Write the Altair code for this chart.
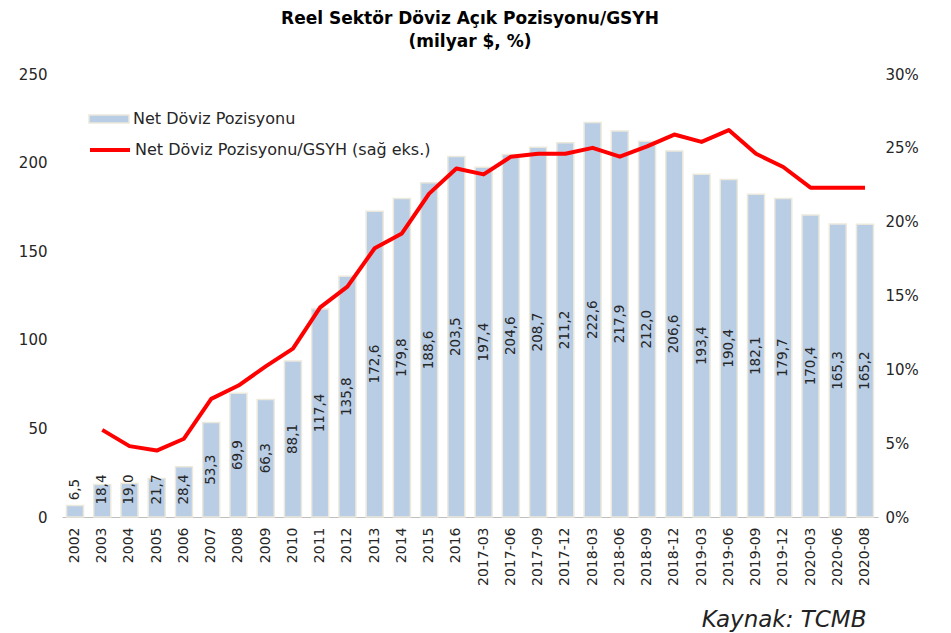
import altair as alt
import pandas as pd

categories = ["2002", "2003", "2004", "2005", "2006", "2007", "2008", "2009", "2010",
              "2011", "2012", "2013", "2014", "2015", "2016",
              "2017-03", "2017-06", "2017-09", "2017-12",
              "2018-03", "2018-06", "2018-09", "2018-12",
              "2019-03", "2019-06", "2019-09", "2019-12",
              "2020-03", "2020-06", "2020-08"]
net_position = [6.5, 18.4, 19.0, 21.7, 28.4, 53.3, 69.9, 66.3, 88.1,
                117.4, 135.8, 172.6, 179.8, 188.6, 203.5,
                197.4, 204.6, 208.7, 211.2,
                222.6, 217.9, 212.0, 206.6,
                193.4, 190.4, 182.1, 179.7,
                170.4, 165.3, 165.2]
ratio_gdp = [None, 5.9, 4.8, 4.5, 5.3, 8.0, 8.9, 10.2, 11.4,
             14.2, 15.6, 18.2, 19.2, 21.9, 23.6,
             23.2, 24.4, 24.6, 24.6,
             25.0, 24.4, 25.1, 25.9,
             25.4, 26.2, 24.6, 23.7,
             22.3, 22.3, 22.3]

bar_name = "Net Döviz Pozisyonu"
line_name = "Net Döviz Pozisyonu/GSYH (sağ eks.)"

df = pd.DataFrame({"cat": categories, "v": net_position, "r": ratio_gdp})

FONT = "DejaVu Sans"

x_enc = alt.X(
    "cat:N", sort=categories,
    scale=alt.Scale(paddingInner=0.375, paddingOuter=0.165),
    axis=alt.Axis(
        title="Kaynak: TCMB", labelAngle=270, labelFontSize=14, labelColor="#262626",
        labelPadding=10, ticks=False, tickSize=0, domain=True, domainColor="#bfbfbf",
        domainWidth=1, grid=False,
        titleFontSize=23, titleFontStyle="italic", titleFontWeight="normal",
        titleColor="#222222", titleAlign="right", titleBaseline="alphabetic",
        titleX=804, titleY=109,
    ),
)

base = alt.Chart(df).encode(x=x_enc)

bars = base.mark_bar(stroke="#ece9dc", strokeWidth=1.5).encode(
    y=alt.Y("v:Q", scale=alt.Scale(domain=[0, 250], nice=False),
            axis=alt.Axis(values=[0, 50, 100, 150, 200, 250], title=None, grid=False,
                          domain=False, ticks=False, tickSize=0, labelPadding=15,
                          labelFontSize=15, labelColor="#262626")),
    color=alt.Color("series:N", scale=alt.Scale(domain=[bar_name], range=["#b9cde5"]),
                    legend=alt.Legend(title=None, orient="none", legendX=26, legendY=24,
                                      symbolType="M-1,-0.2H1V0.2H-1Z", symbolSize=1600,
                                      symbolStrokeColor="#ece9dc", symbolStrokeWidth=1.5,
                                      labelFontSize=16, labelColor="#262626",
                                      labelOffset=3, padding=0, labelLimit=500)),
).transform_calculate(series=f"'{bar_name}'")

lab_expr = "replace(format(datum.v, '.1f'), '.', ',')"

labels = base.mark_text(angle=270, align="center", baseline="middle",
                        fontSize=13.5, color="#262626").encode(
    y=alt.Y("mid:Q", scale=alt.Scale(domain=[0, 250], nice=False), axis=None),
    text="lab:N",
).transform_calculate(lab=lab_expr, mid="max(datum.v / 2, 15.5)")

line = base.mark_line(strokeWidth=4, strokeJoin="round", strokeCap="butt").encode(
    y=alt.Y("r:Q", scale=alt.Scale(domain=[0, 30], nice=False),
            axis=alt.Axis(orient="right", values=[0, 5, 10, 15, 20, 25, 30],
                          labelExpr="datum.value + '%'", title=None, grid=False,
                          domain=False, ticks=False, tickSize=0, labelPadding=7,
                          labelFontSize=15, labelColor="#262626")),
    color=alt.Color("series:N", scale=alt.Scale(domain=[line_name], range=["#ff0000"]),
                    legend=alt.Legend(title=None, orient="none", legendX=26, legendY=54,
                                      symbolType="stroke", symbolSize=1600,
                                      symbolStrokeWidth=4,
                                      labelFontSize=16, labelColor="#262626",
                                      labelOffset=3, padding=0, labelLimit=500)),
).transform_filter("isValid(datum.r)").transform_calculate(series=f"'{line_name}'")

chart = alt.layer(bars, labels, line).resolve_scale(
    y="independent", color="independent"
).properties(
    width=816, height=443,
    title=alt.TitleParams(
        text=["Reel Sektör Döviz Açık Pozisyonu/GSYH", "(milyar $, %)"],
        fontSize=17, fontWeight="bold", font=FONT, color="#000000",
        anchor="middle", offset=16, lineHeight=23,
    ),
    autosize=alt.AutoSizeParams(type="none"),
    padding={"left": 62, "top": 74, "right": 73, "bottom": 116},
).configure(font=FONT).configure_view(stroke=None)

chart.save("out.html", embed_options={"renderer": "svg", "actions": False})
